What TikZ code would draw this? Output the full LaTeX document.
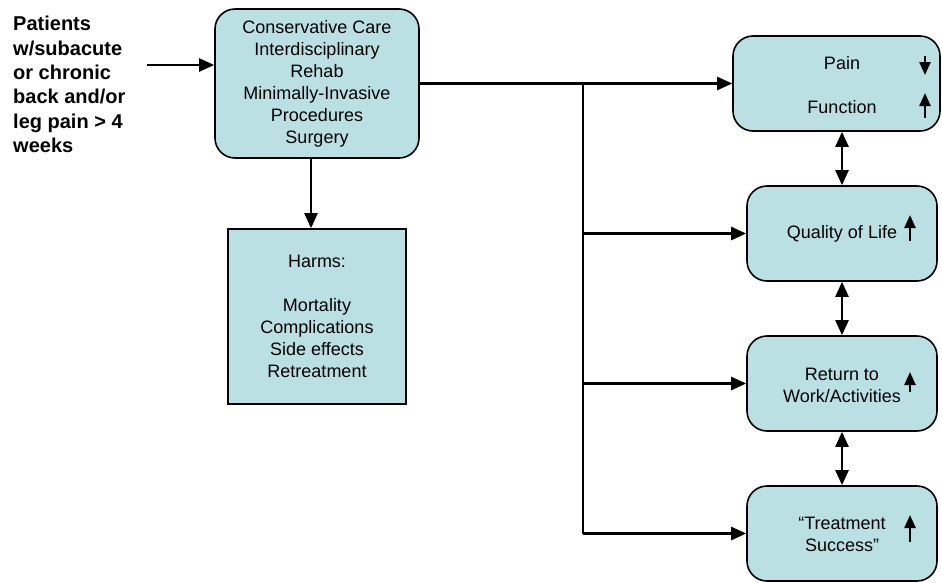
\documentclass[tikz,border=0pt]{standalone}
\usepackage{fontspec}
\setmainfont{Liberation Sans}
\usetikzlibrary{arrows.meta}
\definecolor{boxblue}{RGB}{187,224,227}
\begin{document}
\begin{tikzpicture}[x=1pt,y=-1pt]
\tikzset{
  every node/.append style={inner sep=0pt,font=\fontsize{18}{22}\selectfont},
  box/.style={draw=black,line width=1.6pt,fill=boxblue,align=center},
  rbox/.style={box,rounded corners=20pt},
  tip/.tip={Triangle[length=15pt,width=13pt]},
  small tip/.tip={Triangle[length=13pt,width=11pt]},
  link/.style={black,line width=2.4pt,-tip},
  both/.style={black,line width=2.4pt,tip-tip},
  trend/.style={black,line width=2.4pt,-small tip}
}
\useasboundingbox (0,0) rectangle (942,582);
\node [anchor=west,align=left,font=\fontsize{20}{24.4}\selectfont\bfseries] (pts) at (13,84.5) {Patients\\w/subacute\\or chronic\\back and/or\\leg pain > 4\\weeks};
\node [rbox,minimum width=204pt,minimum height=149pt] (care) at (317,83.5) {Conservative Care\\Interdisciplinary\\Rehab\\Minimally-Invasive\\Procedures\\Surgery};
\node [box,minimum width=178pt,minimum height=175pt] (harms) at (317,316.5) {Harms:\\[22pt]Mortality\\Complications\\Side effects\\Retreatment};
\node [rbox,minimum width=207pt,minimum height=95pt] (pain) at (836.5,83.5) {};
\node [rbox,minimum width=190pt,minimum height=95pt] (qol) at (842,233.5) {};
\node [rbox,minimum width=190pt,minimum height=95pt] (rtw) at (842,383.5) {};
\node [rbox,minimum width=190pt,minimum height=95pt] (ts) at (842,533.5) {};
\node (painlbl) at (842,63) {Pain};
\node (funclbl) at (842,107) {Function};
\node (qollbl) at (842,234) {Quality of Life};
\node [align=center] (rtwlbl) at (842,385.5) {Return to\\Work/Activities};
\node [align=center] (tslbl) at (842,534.5) {“Treatment\\Success”};
\coordinate (in) at (147,65);
\coordinate (split) at (583,83.5);
\draw [link] (in) -- (in -| care.west);
\draw [link] (care.east) -- (pain.west);
\draw [link] ([xshift=-6pt]care.south) -- ([xshift=-6pt]harms.north);
\draw [black,line width=2.4pt] (split) -- (split |- ts.west);
\draw [link] (split |- qol.west) -- (qol.west);
\draw [link] (split |- rtw.west) -- (rtw.west);
\draw [link] (split |- ts.west) -- (ts.west);
\draw [both] (qol.north) -- (qol.north |- pain.south);
\draw [both] (qol.south) -- (rtw.north);
\draw [both] (rtw.south) -- (ts.north);
\draw [trend] ([shift={(88.5,-27.5)}]pain.center) -- ++(0,19);
\draw [trend] ([shift={(88.5,34.5)}]pain.center) -- ++(0,-25);
\draw [trend] ([shift={(68,7.5)}]qol.center) -- ++(0,-26);
\draw [trend] ([shift={(68,8.5)}]rtw.center) -- ++(0,-20);
\draw [trend] ([shift={(68,8.5)}]ts.center) -- ++(0,-27);
\end{tikzpicture}
\end{document}
